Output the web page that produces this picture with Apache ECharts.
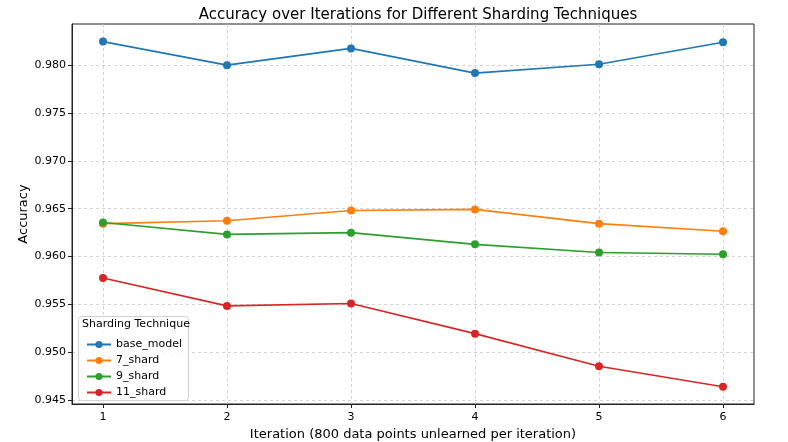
<!DOCTYPE html>
<html>
<head>
<meta charset="utf-8">
<script src="https://cdn.jsdelivr.net/npm/echarts@6/dist/echarts.min.js"></script>
<style>html,body{margin:0;padding:0;background:#fff}#c{width:788px;height:442px}</style>
</head>
<body>
<div id="c"></div>
<script>
const iterations = [1, 2, 3, 4, 5, 6];
const seriesNames = ['base_model', '7_shard', '9_shard', '11_shard'];
const base_model = [0.98246, 0.9800, 0.98175, 0.97917, 0.98010, 0.98240];
const shard_7 = [0.96344, 0.96375, 0.96482, 0.96493, 0.96344, 0.96264];
const shard_9 = [0.96357, 0.96232, 0.96250, 0.96128, 0.96042, 0.96024];
const shard_11 = [0.95777, 0.95485, 0.95510, 0.95195, 0.94855, 0.94640];
const yTicks = [0.945, 0.950, 0.955, 0.960, 0.965, 0.970, 0.975, 0.980];
const xTicks = [1, 2, 3, 4, 5, 6];

const colors = ['#1f77b4', '#ff7f0e', '#2ca02c', '#d62728'];
const values = [base_model, shard_7, shard_9, shard_11];
const font = 'DejaVu Sans';

const chart = echarts.init(document.getElementById('c'), null, {renderer: 'canvas'});
chart.setOption({
  animation: false,
  color: colors,
  textStyle: {fontFamily: font},
  title: {
    text: 'Accuracy over Iterations for Different Sharding Techniques',
    left: 413, top: 3, textAlign: 'center',
    textStyle: {fontFamily: font, fontSize: 15, fontWeight: 'normal', color: '#000'}
  },
  grid: {left: 72, right: 34, top: 24, bottom: 38, show: true, borderColor: '#222', borderWidth: 1,
         containLabel: false, outerBoundsMode: 'none'},
  xAxis: {
    type: 'value', min: 0.75, max: 6.25,
    name: 'Iteration (800 data points unlearned per iteration)',
    nameLocation: 'middle', nameGap: 22,
    nameTextStyle: {fontFamily: font, fontSize: 13, color: '#000'},
    axisLine: {show: true, lineStyle: {color: '#222'}},
    axisTick: {show: true, inside: false, length: 4, lineStyle: {color: '#222'}, customValues: xTicks},
    axisLabel: {fontFamily: font, fontSize: 11, color: '#000', margin: 8, customValues: xTicks, formatter: v => String(v)},
    splitLine: {show: true, lineStyle: {color: '#c8c8c8', type: [3, 3], width: 0.8}}
  },
  yAxis: {
    type: 'value', min: 0.9446, max: 0.9843,
    name: 'Accuracy', nameLocation: 'middle', nameGap: 42, nameMoveOverlap: false,
    nameTextStyle: {fontFamily: font, fontSize: 13, color: '#000'},
    axisLine: {show: true, lineStyle: {color: '#222'}},
    axisTick: {show: true, inside: false, length: 4, lineStyle: {color: '#222'}, customValues: yTicks},
    axisLabel: {fontFamily: font, fontSize: 11, color: '#000', margin: 6, customValues: yTicks, formatter: v => v.toFixed(3)},
    splitLine: {show: true, lineStyle: {color: '#c8c8c8', type: [3, 3], width: 0.8}}
  },
  legend: {
    orient: 'vertical', left: 81, top: 334, z: 100,
    itemWidth: 24, itemHeight: 9, itemGap: 5,
    textStyle: {fontFamily: font, fontSize: 11, color: '#000'},
    data: seriesNames
  },
  graphic: [
    {type: 'rect', left: 78, top: 316, shape: {width: 110, height: 84, r: 3}, z: 90,
     style: {fill: 'rgba(255,255,255,0.8)', stroke: '#d0d0d0', lineWidth: 1}},
    {type: 'text', left: 82, top: 319, z: 91,
     style: {text: 'Sharding Technique', fontFamily: font, fontSize: 11, fill: '#000'}}
  ],
  series: seriesNames.map((n, i) => ({
    name: n, type: 'line',
    data: iterations.map((x, j) => [x, values[i][j]]),
    symbol: 'circle', symbolSize: 8,
    lineStyle: {width: 1.6, color: colors[i]},
    itemStyle: {color: colors[i]}
  }))
});
</script>
</body>
</html>
